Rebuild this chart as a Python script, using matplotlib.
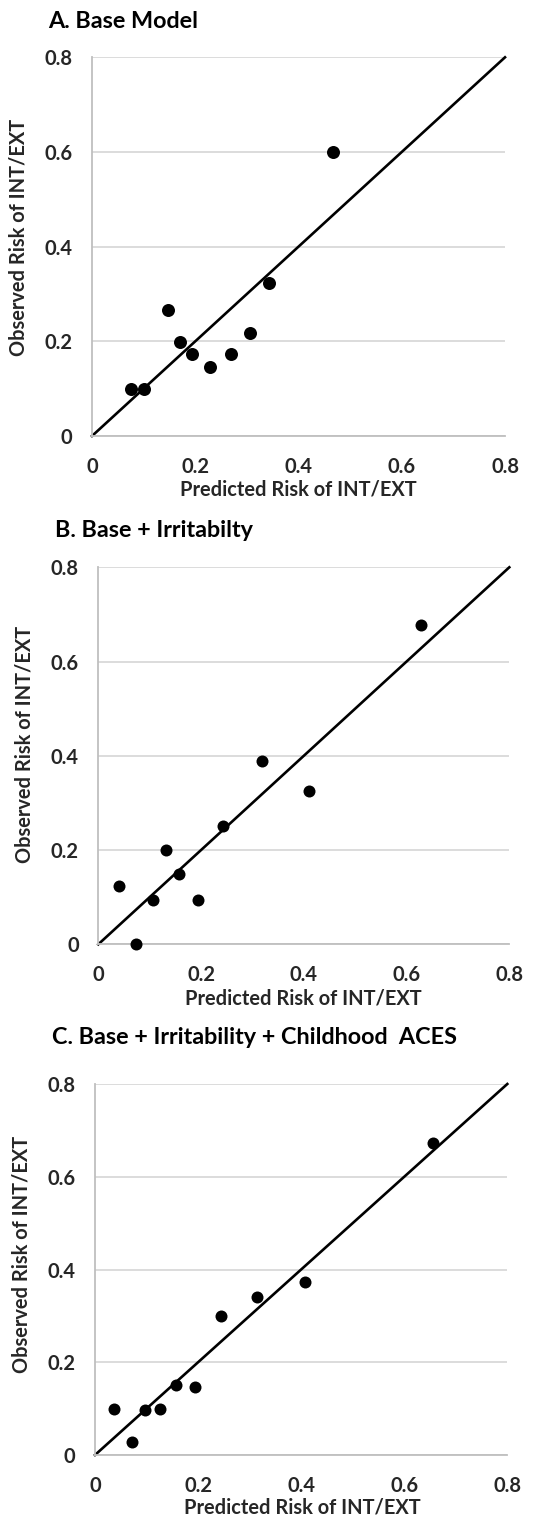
import matplotlib
matplotlib.use('Agg')
import matplotlib.pyplot as plt

# ---------------- data ----------------
tick_values = [0.0, 0.2, 0.4, 0.6, 0.8]
tick_labels = ['0', '0.2', '0.4', '0.6', '0.8']
ref_line = [0.0, 0.8]

titles = ['A. Base Model', 'B. Base + Irritabilty',
          'C. Base + Irritability + Childhood  ACES']
xlabel_text = 'Predicted Risk of INT/EXT'
ylabel_text = 'Observed Risk of INT/EXT'

a_pred = [0.075, 0.100, 0.148, 0.171, 0.194, 0.229, 0.269, 0.306, 0.342, 0.466]
a_obs = [0.100, 0.100, 0.267, 0.198, 0.173, 0.145, 0.173, 0.217, 0.323, 0.600]

b_pred = [0.041, 0.073, 0.106, 0.131, 0.158, 0.195, 0.243, 0.319, 0.410, 0.628]
b_obs = [0.124, 0.000, 0.095, 0.200, 0.150, 0.095, 0.250, 0.390, 0.325, 0.677]

c_pred = [0.037, 0.072, 0.097, 0.127, 0.158, 0.195, 0.244, 0.314, 0.407, 0.655]
c_obs = [0.100, 0.027, 0.098, 0.100, 0.150, 0.147, 0.300, 0.340, 0.374, 0.673]

# ---------------- layout ----------------
W, H = 535, 1518
plt.rcParams['font.family'] = ['Lato', 'DejaVu Sans']
plt.rcParams['font.weight'] = 'bold'

fig = plt.figure(figsize=(W / 100, H / 100), dpi=100)
fig.patch.set_facecolor('white')


def fx(px):
    return px / W


def fy(py):
    return 1 - py / H


# left, top, right, bottom (pixels) ; title (x, y) ; ylabel (x, y) ; xlabel (x, y); marker px
panels = [
    (titles[0], a_pred, a_obs, (92, 57.3, 505, 436), (48, 22), (19, 237), (298, 490), 13),
    (titles[1], b_pred, b_obs, (98.3, 567.3, 509.3, 944.3), (55, 530), (25, 744), (303, 998), 12),
    (titles[2], c_pred, c_obs, (95, 1084, 507.3, 1455), (52, 1038), (22, 1254), (302, 1508), 12),
]

text_color = '#262626'
grid_color = '#d9d9d9'
axis_color = '#bfbfbf'

for title, pred, obs, (l, t, r, b), (tx, ty), (yx, yy), (xx, xy), msz in panels:
    ax = fig.add_axes([fx(l), fy(b), (r - l) / W, (b - t) / H])
    ax.set_xlim(0, 0.8)
    ax.set_ylim(0, 0.8)
    ax.set_xticks(tick_values)
    ax.set_xticklabels(tick_labels)
    ax.set_yticks(tick_values)
    ax.set_yticklabels(tick_labels)
    ax.yaxis.grid(True, color=grid_color, lw=1.3)
    ax.xaxis.grid(False)
    ax.set_axisbelow(True)
    for s in ['top', 'right']:
        ax.spines[s].set_visible(False)
    for s in ['left', 'bottom']:
        ax.spines[s].set_color(axis_color)
        ax.spines[s].set_linewidth(1.3)
    ax.tick_params(axis='both', length=0, labelsize=14.5, labelcolor=text_color)
    ax.tick_params(axis='y', pad=14)
    ax.tick_params(axis='x', pad=15)
    for lab in ax.get_xticklabels() + ax.get_yticklabels():
        lab.set_fontweight('bold')

    ax.plot(ref_line, ref_line, color='black', lw=1.9, zorder=2, clip_on=False)
    ax.scatter(pred, obs, s=(msz * 0.72) ** 2, color='black', zorder=3,
               clip_on=False, linewidths=0)

    fig.text(fx(tx), fy(ty), title, ha='left', va='center', fontsize=16.8,
             fontweight='bold', color='black')
    fig.text(fx(yx), fy(yy), ylabel_text, ha='center', va='center', rotation=90,
             fontsize=14.4, fontweight='bold', color=text_color)
    fig.text(fx(xx), fy(xy), xlabel_text, ha='center', va='center',
             fontsize=14.4, fontweight='bold', color=text_color)

fig.savefig('out.png', dpi=100, facecolor='white')
